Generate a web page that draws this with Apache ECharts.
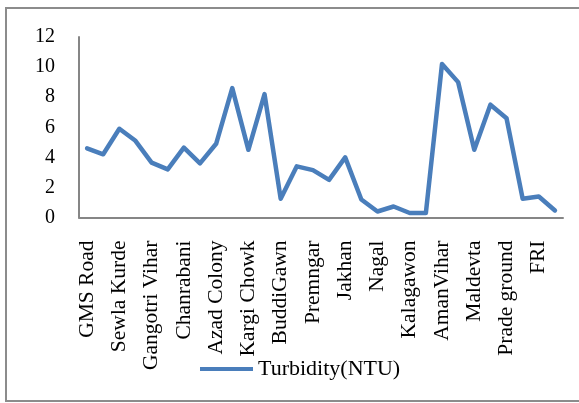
<!DOCTYPE html>
<html><head><meta charset="utf-8">
<script src="https://cdn.jsdelivr.net/npm/echarts@6/dist/echarts.min.js"></script>
<style>html,body{margin:0;padding:0;background:#fff}#c{width:579px;height:403px}</style>
</head><body><div id="c"></div>
<script>
// Categories: every other one is labelled in the reference; unlabelled ones are placeholders
const categories = [
  "GMS Road","Site 2","Sewla Kurde","Site 4","Gangotri Vihar","Site 6","Chanrabani","Site 8",
  "Azad Colony","Site 10","Kargi Chowk","Site 12","BuddiGawn","Site 14","Premngar","Site 16",
  "Jakhan","Site 18","Nagal","Site 20","Kalagawon","Site 22","AmanVihar","Site 24",
  "Maldevta","Site 26","Prade ground","Site 28","FRI","Site 30"
];
const turbidity = [
  4.6, 4.2, 5.9, 5.1, 3.65, 3.2, 4.65, 3.6, 4.9, 8.6,
  4.5, 8.2, 1.25, 3.4, 3.15, 2.5, 4.0, 1.2, 0.4, 0.73,
  0.3, 0.3, 10.2, 9.0, 4.5, 7.5, 6.6, 1.25, 1.4, 0.47
];
const yMin = 0, yMax = 12, yInterval = 2;
const seriesName = "Turbidity(NTU)";

const font = "'Liberation Serif','Times New Roman',serif";
const chart = echarts.init(document.getElementById('c'), null, {renderer:'canvas'});
chart.setOption({
  animation:false,
  backgroundColor:'#fff',
  graphic:[{type:'rect', shape:{x:6,y:8,width:580,height:393}, style:{fill:'none', stroke:'#8c8c8c', lineWidth:2}, silent:true}],
  grid:{left:79, right:16, top:37, bottom:185.5},
  legend:{
    data:[seriesName], left:195, top:353, icon:'rect', itemWidth:53, itemHeight:4, itemGap:5,
    textStyle:{fontFamily:font, fontSize:22, color:'#000', padding:[0,0,0,0]}
  },
  xAxis:{
    type:'category', data:categories, boundaryGap:true,
    axisLine:{lineStyle:{color:'#868686', width:2}},
    axisTick:{show:false},
    axisLabel:{interval:1, rotate:90, margin:23, fontFamily:font, fontSize:21.5, color:'#000'}
  },
  yAxis:{
    type:'value', min:yMin, max:yMax, interval:yInterval,
    axisLine:{show:true, lineStyle:{color:'#868686', width:2}},
    axisTick:{show:false},
    splitLine:{show:false},
    axisLabel:{margin:24, fontFamily:font, fontSize:20, color:'#000'}
  },
  series:[{
    name:seriesName, type:'line', data:turbidity, symbol:'none',
    lineStyle:{color:'#4a7ebb', width:4.5, join:'round', cap:'round'},
    itemStyle:{color:'#4a7ebb'}
  }]
});
</script></body></html>
